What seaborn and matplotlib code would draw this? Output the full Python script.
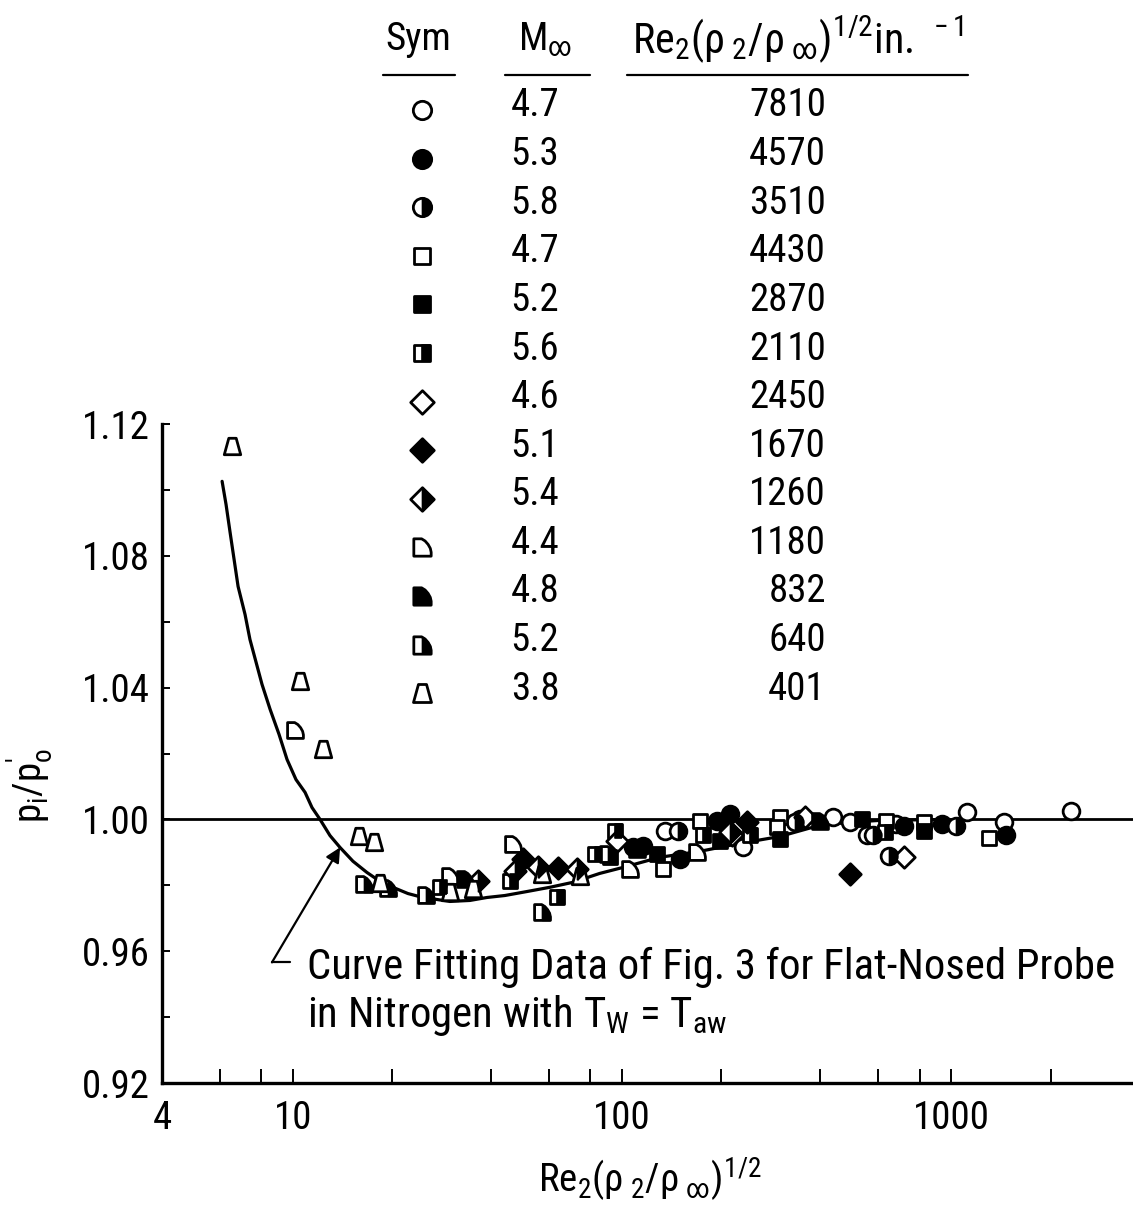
import numpy as np
import pandas as pd
import matplotlib
matplotlib.use("Agg")
import matplotlib.pyplot as plt
import seaborn as sns
from matplotlib.path import Path
from matplotlib.markers import MarkerStyle
from matplotlib import font_manager as fm
from matplotlib.ticker import FixedLocator, FixedFormatter, NullFormatter

# ---------------- data ----------------
circ_open_x = [134.6, 232.1, 435.4, 490.2, 552.1, 680.8, 1118.5, 1448, 2313]
circ_open_y = [0.9964, 0.9915, 1.0006, 0.9991, 0.9954, 0.9985, 1.0021, 0.9991, 1.0024]

circ_fill_x = [107.6, 115.4, 149.4, 193.6, 212.0, 345.7, 720.0, 932.9, 1469]
circ_fill_y = [0.9915, 0.9918, 0.9879, 0.9994, 1.0015, 1.0000, 0.9979, 0.9985, 0.9954]

circ_half_x = [147.4, 333.8, 575.7, 648.3, 1035.6]
circ_half_y = [0.9964, 0.9991, 0.9954, 0.9888, 0.9979]

sq_open_x = [132.7, 171.9, 300.6, 294.4, 634.9, 828.2, 1304]
sq_open_y = [0.9848, 0.9994, 1.0006, 0.9976, 0.9994, 0.9991, 0.9945]

sq_fill_x = [127.3, 197.7, 300.6, 533.3, 828.2]
sq_fill_y = [0.9894, 0.9933, 0.9939, 1.0000, 0.9964]

sq_half_x = [27.9, 45.6, 63.3, 82.5, 91.6, 94.9, 175.5, 243.8, 626.2]
sq_half_y = [0.9794, 0.9812, 0.9763, 0.9894, 0.9885, 0.9964, 0.9954, 0.9954, 0.9961]

dia_open_x = [96.2, 214.9, 358.0, 720.0]
dia_open_y = [0.9933, 0.9954, 1.0006, 0.9885]

dia_fill_x = [49.9, 63.7, 238.7, 490.2]
dia_fill_y = [0.9879, 0.9854, 0.9991, 0.9833]

dia_half_x = [36.4, 47.2, 55.4, 72.8, 212.0]
dia_half_y = [0.9812, 0.9842, 0.9857, 0.9848, 0.9961]

qd_open_x = [10.14, 29.96, 46.5, 105.4, 168.3]
qd_open_y = [1.0270, 0.9827, 0.9924, 0.9848, 0.9900]

qd_fill_x = [33.3, 110.7, 397.5]
qd_fill_y = [0.9818, 0.9909, 0.9994]

qd_half_x = [16.43, 19.43, 25.3, 57.0, 90.4]
qd_half_y = [0.9803, 0.9791, 0.9772, 0.9718, 0.9894]

trap_x = [6.53, 10.5, 12.3, 15.86, 17.61, 18.37, 29.96, 35.2, 57.0, 74.3]
trap_y = [1.1132, 1.0419, 1.0215, 0.9951, 0.9930, 0.9806, 0.9781, 0.9788, 0.9833, 0.9827]

curve_x = [6.09, 6.26, 6.44, 6.81, 7.15, 7.40, 8.05, 8.52, 9.07, 9.59, 10.21, 10.88,
           11.42, 12.08, 12.95, 13.89, 15.21, 16.77, 18.37, 20.1, 22.34, 24.8, 27.35,
           29.96, 34.45, 38.8, 44.0, 51.3, 60.3, 70.8, 85.4, 100.3, 130.0, 171.9,
           227.3, 300.6, 397.5, 490, 604.6, 986]
curve_y = [1.1026, 1.0956, 1.0871, 1.0707, 1.0622, 1.0546, 1.0410, 1.0334, 1.0258,
           1.0182, 1.0121, 1.0082, 1.0036, 1.0000, 0.9951, 0.9915, 0.9873, 0.9839,
           0.9812, 0.9794, 0.9775, 0.9763, 0.9757, 0.9751, 0.9754, 0.9763, 0.9769,
           0.9781, 0.9794, 0.9809, 0.9836, 0.9854, 0.9885, 0.9903, 0.9927, 0.9948,
           0.9982, 0.9991, 0.9997, 1.0000]

legend_mach = ["4.7", "5.3", "5.8", "4.7", "5.2", "5.6", "4.6", "5.1", "5.4",
               "4.4", "4.8", "5.2", "3.8"]
legend_re = ["7810", "4570", "3510", "4430", "2870", "2110", "2450", "1670",
             "1260", "1180", "832", "640", "401"]

x_major = [4, 10, 100, 1000]
x_major_labels = ["4", "10", "100", "1000"]
x_minor = [6, 8, 20, 40, 60, 80, 200, 400, 600, 800, 2000]
y_major = [0.92, 0.96, 1.00, 1.04, 1.08, 1.12]
y_major_labels = ["0.92", "0.96", "1.00", "1.04", "1.08", "1.12"]
y_minor = [0.94, 0.98, 1.02, 1.06, 1.10]

# annotation anchor (curve point) and text corner of the leader
arrow_tip = (13.9, 0.9915)
arrow_tail = (8.63, 0.9566)
arrow_foot_end = (9.8, 0.9566)

# ---------------- style ----------------
sns.set_theme(style="white")
names = {f.name for f in fm.fontManager.ttflist}
font = None
for cand in ["Liberation Sans Narrow", "Roboto Condensed", "Open Sans Condensed",
             "DejaVu Sans Condensed"]:
    if cand in names:
        font = cand
        break
narrow = font is not None
if font is None:
    font = "Liberation Sans"
FS = 1.0 if narrow else 0.84

plt.rcParams["font.family"] = [font, "DejaVu Sans"]
plt.rcParams["mathtext.fontset"] = "custom"
plt.rcParams["mathtext.rm"] = font
plt.rcParams["mathtext.it"] = font
plt.rcParams["mathtext.bf"] = font
for k in ["text.color", "axes.labelcolor", "xtick.color", "ytick.color", "axes.edgecolor"]:
    plt.rcParams[k] = "black"

W, H = 1133, 1216
fig = plt.figure(figsize=(W / 100, H / 100), dpi=100)
fig.patch.set_facecolor("white")

ax_l, ax_r, ax_t, ax_b = 162, 1133, 424, 1083
ax = fig.add_axes([ax_l / W, 1 - ax_b / H, (ax_r - ax_l) / W, (ax_b - ax_t) / H])
ax.set_xscale("log")
ax.set_xlim(4, 3560)
ax.set_ylim(0.92, 1.12)
ax.patch.set_alpha(0)

for s in ["top", "right"]:
    ax.spines[s].set_visible(False)
for s in ["left", "bottom"]:
    ax.spines[s].set_linewidth(2.4)
    ax.spines[s].set_color("black")

ax.xaxis.set_major_locator(FixedLocator(x_major))
ax.xaxis.set_major_formatter(FixedFormatter(x_major_labels))
ax.xaxis.set_minor_locator(FixedLocator(x_minor))
ax.xaxis.set_minor_formatter(NullFormatter())
ax.yaxis.set_major_locator(FixedLocator(y_major))
ax.yaxis.set_major_formatter(FixedFormatter(y_major_labels))
ax.yaxis.set_minor_locator(FixedLocator(y_minor))
ax.yaxis.set_minor_formatter(NullFormatter())
ax.tick_params(axis="x", which="both", direction="in", length=10, width=1.4,
               labelsize=28 * FS, pad=12, bottom=True)
ax.tick_params(axis="y", which="both", direction="in", length=6, width=1.4,
               labelsize=28 * FS, pad=9, left=True)

# ---------------- markers ----------------
qd_verts = [(-1, -1), (1, -1), (1, -0.55), (0.9, -0.1), (0.65, 0.35), (0.3, 0.75),
            (-0.1, 1), (-1, 1), (-1, -1)]
qd_half_verts = [(0, -1), (1, -1), (1, -0.55), (0.9, -0.1), (0.65, 0.35), (0.3, 0.75),
                 (0, 0.9375), (0, -1)]
trap_verts = [(-1, -1), (1, -1), (0.45, 1), (-0.45, 1), (-1, -1)]
M_QD = MarkerStyle(Path(qd_verts, closed=True))
M_QDH = MarkerStyle(Path(qd_half_verts, closed=True))
M_TRAP = MarkerStyle(Path(trap_verts, closed=True))

half_of = {
    "o": MarkerStyle("o", fillstyle="right"),
    "s": MarkerStyle("s", fillstyle="right"),
    "D": MarkerStyle("D", fillstyle="right"),
    "qd": M_QDH,
}
full_of = {"o": "o", "s": "s", "D": "D", "qd": M_QD, "trap": M_TRAP}

series = [
    (circ_open_x, circ_open_y, "o", "open"),
    (circ_fill_x, circ_fill_y, "o", "fill"),
    (circ_half_x, circ_half_y, "o", "half"),
    (sq_open_x, sq_open_y, "s", "open"),
    (sq_fill_x, sq_fill_y, "s", "fill"),
    (sq_half_x, sq_half_y, "s", "half"),
    (dia_open_x, dia_open_y, "D", "open"),
    (dia_fill_x, dia_fill_y, "D", "fill"),
    (dia_half_x, dia_half_y, "D", "half"),
    (qd_open_x, qd_open_y, "qd", "open"),
    (qd_fill_x, qd_fill_y, "qd", "fill"),
    (qd_half_x, qd_half_y, "qd", "half"),
    (trap_x, trap_y, "trap", "open"),
]

size_of = {"o": 145, "s": 115, "D": 120, "qd": 130, "trap": 140}
MLW = 2.0


def draw_marker(axis, xs, ys, key, fill, scale=1.0, z=4):
    s = size_of[key] * scale
    face = "black" if fill == "fill" else "white"
    sns.scatterplot(x=xs, y=ys, marker=full_of[key], s=s, color="black",
                    facecolor=face, edgecolor="black", linewidth=MLW,
                    ax=axis, zorder=z, legend=False)
    if fill == "half":
        sns.scatterplot(x=xs, y=ys, marker=half_of[key], s=s, color="black",
                        facecolor="black", edgecolor="black", linewidth=MLW * 0.6,
                        ax=axis, zorder=z + 0.1, legend=False)


# reference line and fitted curve
ax.axhline(1.0, color="black", lw=2.0, zorder=2)
sns.lineplot(x=curve_x, y=curve_y, sort=False, estimator=None, color="black",
             lw=2.3, ax=ax, zorder=3)

for xs, ys, key, fill in series:
    draw_marker(ax, xs, ys, key, fill)

# leader arrow
ax.annotate("", xy=arrow_tip, xytext=arrow_tail,
            arrowprops=dict(arrowstyle="-|>", color="black", lw=1.6,
                            mutation_scale=22, shrinkA=0, shrinkB=0))
ax.plot([arrow_tail[0], arrow_foot_end[0]], [arrow_tail[1], arrow_foot_end[1]],
        color="black", lw=1.6)

# ---------------- overlay for text/legend table (pixel coordinates) ----------------
lax = fig.add_axes([0, 0, 1, 1])
lax.set_xlim(0, W)
lax.set_ylim(H, 0)
lax.axis("off")

TFS = 28 * FS
lax.text(418, 40, "Sym", ha="center", va="center", fontsize=TFS)
lax.text(545, 40, r"$\mathregular{M_{\infty}}$", ha="center", va="center", fontsize=TFS)
lax.text(632, 40, r"$\mathregular{Re_2(\rho_{\ 2}/\rho_{\ \infty})^{1/2}in.^{\ -1}}$",
         ha="left", va="center", fontsize=TFS * 1.08)
for x0, x1 in [(383, 455), (505, 590), (627, 968)]:
    lax.plot([x0, x1], [75, 75], color="black", lw=1.6)

row0, dy = 106, 48.6
for i, (xs, ys, key, fill) in enumerate(series):
    yy = row0 + i * dy
    draw_marker(lax, [422], [yy + 4], key, fill, scale=1.2, z=5)
    lax.text(535, yy, legend_mach[i], ha="center", va="center", fontsize=TFS)
    lax.text(826, yy, legend_re[i], ha="right", va="center", fontsize=TFS)

# axis labels
lax.text(30, 785, r"$\mathregular{p_i/p_o^{\prime}}$", rotation=90, ha="center",
         va="center", fontsize=TFS)
lax.text(650, 1180, r"$\mathregular{Re_2(\rho_{\ 2}/\rho_{\ \infty})^{1/2}}$",
         ha="center", va="center", fontsize=TFS)

# curve note
NFS = 30.8 * FS
lax.text(307, 967, "Curve Fitting Data of Fig. 3 for Flat-Nosed Probe",
         ha="left", va="center", fontsize=NFS)
lax.text(307, 1015, r"in Nitrogen with T$_\mathregular{W}$ = T$_\mathregular{aw}$",
         ha="left", va="center", fontsize=NFS)

fig.savefig("out.png", dpi=100, facecolor="white")
